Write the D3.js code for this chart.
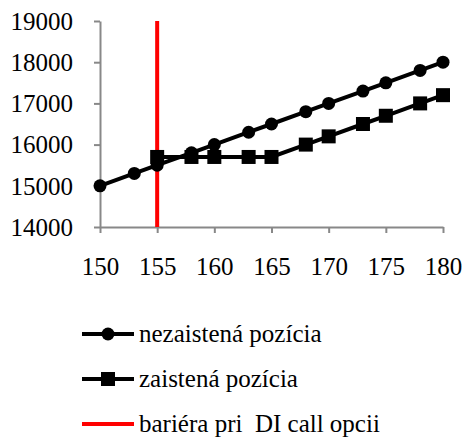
<!DOCTYPE html>
<html>
<head>
<meta charset="utf-8">
<script src="https://cdn.jsdelivr.net/npm/d3@7"></script>
</head>
<body style="margin:0; background:#fff">
<script>
// strike prices and position values
let unhedgedX = [150, 153, 155, 158, 160, 163, 165, 168, 170, 173, 175, 178, 180];
let unhedgedY = [15000, 15300, 15500, 15800, 16000, 16300, 16500, 16800, 17000, 17300, 17500, 17800, 18000];
let hedgedX = [155, 158, 160, 163, 165, 168, 170, 173, 175, 178, 180];
let hedgedY = [15700, 15700, 15700, 15700, 15700, 16000, 16200, 16500, 16700, 17000, 17200];
let barrierX = 155;
let xTicks = [150, 155, 160, 165, 170, 175, 180];
let yTicks = [14000, 15000, 16000, 17000, 18000, 19000];
let legendLabels = ["nezaistená pozícia", "zaistená pozícia", "bariéra pri  DI call opcii"];

let FONT = "'Times New Roman', 'Liberation Serif', Times, serif";
let W = 467, H = 438;
let svg = d3.select("body").append("svg").attr("width", W).attr("height", H)
  .style("font-family", FONT);

let x = d3.scaleLinear().domain([150, 180]).range([100, 443]);
let y = d3.scaleLinear().domain([14000, 19000]).range([227, 21]);

// axes
let xAxis = svg.append("g").attr("transform", "translate(0," + y(14000) + ")")
  .call(d3.axisBottom(x).tickValues(xTicks).tickFormat(d3.format("d")).tickSize(6).tickPadding(24).tickSizeOuter(0));
let yAxis = svg.append("g").attr("transform", "translate(" + x(150) + ",0)")
  .call(d3.axisLeft(y).tickValues(yTicks).tickFormat(d3.format("d")).tickSize(6).tickPadding(21).tickSizeOuter(0));

[xAxis, yAxis].forEach(function(a) {
  a.attr("font-family", null).attr("font-size", 25);
  a.select(".domain").attr("stroke", "#888").attr("stroke-width", 2);
  a.selectAll(".tick line").attr("stroke", "#888").attr("stroke-width", 2);
  a.selectAll(".tick text").attr("fill", "#000").style("font-family", FONT);
});
yAxis.selectAll(".tick text").attr("dy", "0.33em");

// barrier
svg.append("line")
  .attr("x1", x(barrierX)).attr("x2", x(barrierX))
  .attr("y1", y(19000)).attr("y2", y(14000))
  .attr("stroke", "#ff0000").attr("stroke-width", 4);

let line = d3.line().x(function(d) { return x(d[0]); }).y(function(d) { return y(d[1]); });

let unhedged = d3.zip(unhedgedX, unhedgedY);
let hedged = d3.zip(hedgedX, hedgedY);

svg.append("path").datum(unhedged).attr("d", line)
  .attr("fill", "none").attr("stroke", "#000").attr("stroke-width", 4);
svg.append("path").datum(hedged).attr("d", line)
  .attr("fill", "none").attr("stroke", "#000").attr("stroke-width", 4);

svg.selectAll("circle.pt").data(unhedged).enter().append("circle")
  .attr("class", "pt")
  .attr("cx", function(d) { return x(d[0]); })
  .attr("cy", function(d) { return y(d[1]); })
  .attr("r", 6.5).attr("fill", "#000");

svg.selectAll("rect.pt").data(hedged).enter().append("rect")
  .attr("class", "pt")
  .attr("x", function(d) { return x(d[0]) - 7; })
  .attr("y", function(d) { return y(d[1]) - 7; })
  .attr("width", 14).attr("height", 14).attr("fill", "#000");

// legend
let legY = [334, 379, 424];
legendLabels.forEach(function(lbl, i) {
  svg.append("line").attr("x1", 82).attr("x2", 134).attr("y1", legY[i]).attr("y2", legY[i])
    .attr("stroke", i === 2 ? "#ff0000" : "#000").attr("stroke-width", 4);
  if (i === 0) svg.append("circle").attr("cx", 108).attr("cy", legY[i]).attr("r", 6.5).attr("fill", "#000");
  if (i === 1) svg.append("rect").attr("x", 101).attr("y", legY[i] - 7).attr("width", 14).attr("height", 14).attr("fill", "#000");
  svg.append("text").attr("x", 139).attr("y", legY[i] + 8)
    .style("font-family", FONT).attr("font-size", 25).attr("fill", "#000")
    .text(lbl.replace("  ", "\u00a0 "));
});
</script>
</body>
</html>
